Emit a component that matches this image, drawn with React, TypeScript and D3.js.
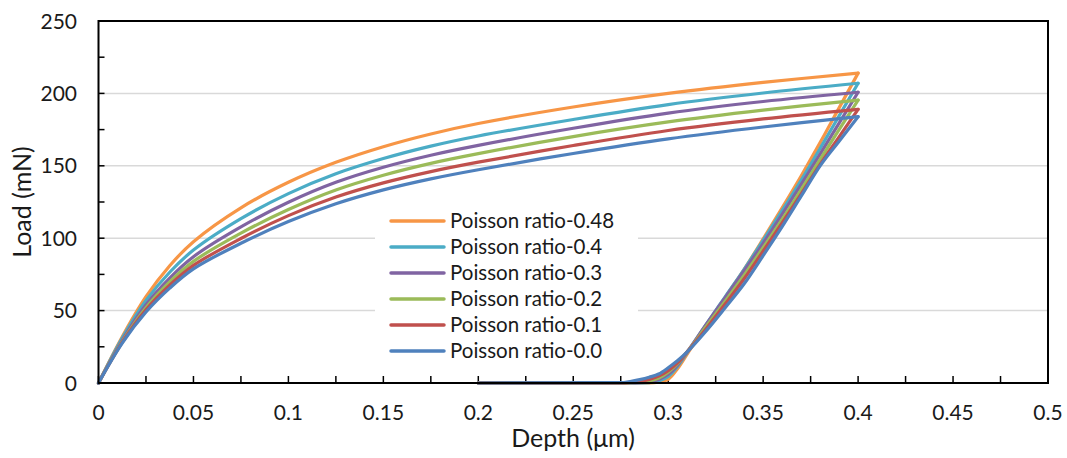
import React from "react";
import * as d3 from "d3";

const seriesNames = [
  "Poisson ratio-0.48",
  "Poisson ratio-0.4",
  "Poisson ratio-0.3",
  "Poisson ratio-0.2",
  "Poisson ratio-0.1",
  "Poisson ratio-0.0",
];
const seriesColors = ["#F79646", "#4BACC6", "#8064A2", "#9BBB59", "#C0504D", "#4F81BD"];

const loadDepth = [0, 0.0125, 0.025, 0.0375, 0.05, 0.075, 0.1, 0.125, 0.15, 0.175, 0.2, 0.25, 0.3, 0.35, 0.4];
const load048 = [0, 32, 59.6, 81, 97.6, 121, 138.6, 152.4, 163.2, 172.0, 179.2, 190.6, 200.0, 207.6, 214];
const load04 = [0, 31, 57, 76.5, 91.8, 113.5, 130.8, 144.5, 155.0, 163.6, 170.6, 182.0, 192.3, 200.3, 207];
const load03 = [0, 29.5, 54, 72.5, 87.2, 107.8, 124.8, 138.6, 149.0, 157.3, 164.1, 175.9, 186.4, 194.4, 200.8];
const load02 = [0, 28.5, 52, 69.8, 84, 103.5, 119.8, 133.3, 143.5, 151.7, 158.4, 170.2, 180.3, 188.4, 195.4];
const load01 = [0, 28, 50.5, 67.5, 81.2, 99.8, 115.6, 128.4, 138.2, 146.0, 152.5, 164.0, 174.4, 182.4, 189];
const load00 = [0, 27.5, 49, 65.5, 78.8, 96.5, 111.5, 123.8, 133.4, 141.0, 147.3, 158.5, 168.6, 176.8, 183.9];

const unloadDepth = [0.2, 0.275, 0.28, 0.285, 0.29, 0.295, 0.3, 0.305, 0.31, 0.32, 0.33, 0.34, 0.35, 0.36, 0.37, 0.38, 0.39, 0.4];
const unload048 = [0, 0, 0, 0, 0, 0.5, 2.5, 10, 20, 39.5, 59, 78.5, 99.5, 121, 143, 166, 190, 214];
const unload04 = [0, 0, 0, 0, 0.3, 1.5, 4.5, 11.5, 21, 40.5, 59.5, 78.5, 98.5, 119, 140, 162, 184.5, 207];
const unload03 = [0, 0, 0, 0.2, 1, 2.5, 6, 12.5, 21.5, 40.5, 59, 77.5, 96.5, 116.5, 137, 158, 179.5, 200.8];
const unload02 = [0, 0, 0.2, 0.6, 1.5, 3.5, 7.5, 13.5, 21.5, 39, 56.5, 74.5, 93.5, 113, 133.5, 154.5, 175, 195.4];
const unload01 = [0, 0, 0.4, 1.2, 2.5, 4.8, 8.5, 14, 21.5, 37.5, 54.5, 72, 91, 110.5, 130.5, 151, 170, 189];
const unload00 = [0, 0.2, 1, 2.3, 4, 6.2, 10.5, 15.5, 21.5, 36, 52, 68.5, 88, 108, 129, 150, 167, 183.9];

const loadSeries = [load048, load04, load03, load02, load01, load00];
const unloadSeries = [unload048, unload04, unload03, unload02, unload01, unload00];

const xTickLabels = [0, 0.05, 0.1, 0.15, 0.2, 0.25, 0.3, 0.35, 0.4, 0.45, 0.5];
const yTickLabels = [0, 50, 100, 150, 200, 250];

const FONT = "Lato, 'Noto Sans', sans-serif";

export default function App() {
  const x = d3.scaleLinear().domain([0, 0.5]).range([98.5, 1048]);
  const y = d3.scaleLinear().domain([0, 250]).range([383, 21]);
  const loadLine = d3
    .line<[number, number]>()
    .x((d) => x(d[0]))
    .y((d) => y(d[1]))
    .curve(d3.curveCatmullRom.alpha(0.5));
  const unloadLine = d3
    .line<[number, number]>()
    .x((d) => x(d[0]))
    .y((d) => y(d[1]))
    .curve(d3.curveMonotoneX);

  const xMinor = d3.range(0, 21).map((i) => i * 0.025);
  const yMinor = d3.range(0, 11).map((i) => i * 25);

  const legendX = 391;
  const legendY0 = 221;
  const legendDy = 26;

  return (
    <svg
      width={1067}
      height={458}
      style={{ position: "absolute", left: 0, top: 0, background: "#fff" }}
      fontFamily={FONT}
    >
      <rect x={0} y={0} width={1067} height={458} fill="#fff" />
      {yTickLabels.slice(1, -1).map((v) => (
        <line key={"g" + v} x1={x(0)} x2={x(0.5)} y1={y(v)} y2={y(v)} stroke="#d9d9d9" strokeWidth={1.5} />
      ))}
      {/* legend background */}
      <rect x={375} y={207} width={263} height={158} fill="#fff" />
      {/* ticks */}
      {xMinor.map((v, i) => (
        <line key={"xt" + i} x1={x(v)} x2={x(v)} y1={y(0)} y2={y(0) - 7} stroke="#000" strokeWidth={1.5} />
      ))}
      {yMinor.map((v, i) => (
        <line key={"yt" + i} x1={x(0)} x2={x(0) + 6} y1={y(v)} y2={y(v)} stroke="#000" strokeWidth={1.5} />
      ))}
      {/* data */}
      {loadSeries.map((ld, s) => {
        const lp: [number, number][] = loadDepth.map((h, i) => [h, ld[i]]);
        const up: [number, number][] = unloadDepth.map((h, i) => [h, unloadSeries[s][i]]);
        return (
          <g key={"s" + s} fill="none" stroke={seriesColors[s]} strokeWidth={3.2} strokeLinejoin="round" strokeLinecap="round">
            <path d={loadLine(lp) || ""} />
            <path d={unloadLine(up) || ""} />
          </g>
        );
      })}
      {/* frame */}
      <rect x={x(0)} y={y(250)} width={x(0.5) - x(0)} height={y(0) - y(250)} fill="none" stroke="#000" strokeWidth={2} />
      {/* tick labels */}
      {xTickLabels.map((v) => (
        <text key={"xl" + v} x={x(v)} y={420} textAnchor="middle" fontSize={21} fill="#1a1a1a">
          {String(v)}
        </text>
      ))}
      {yTickLabels.map((v) => (
        <text key={"yl" + v} x={77} y={y(v)} dy="0.36em" textAnchor="end" fontSize={21} fill="#1a1a1a">
          {String(v)}
        </text>
      ))}
      {/* axis titles */}
      <text x={573} y={447} textAnchor="middle" fontSize={25} fill="#1a1a1a">
        Depth (μm)
      </text>
      <text
        transform={`translate(31,${202}) rotate(-90)`}
        textAnchor="middle"
        fontSize={25}
        fill="#1a1a1a"
      >
        Load (mN)
      </text>
      {/* legend */}
      {seriesNames.map((name, i) => (
        <g key={"lg" + i}>
          <line
            x1={legendX}
            x2={legendX + 53}
            y1={legendY0 + i * legendDy}
            y2={legendY0 + i * legendDy}
            stroke={seriesColors[i]}
            strokeWidth={3.5}
            strokeLinecap="round"
          />
          <text x={450} y={legendY0 + i * legendDy} dy="0.36em" fontSize={20.5} fill="#1a1a1a">
            {name}
          </text>
        </g>
      ))}
    </svg>
  );
}
